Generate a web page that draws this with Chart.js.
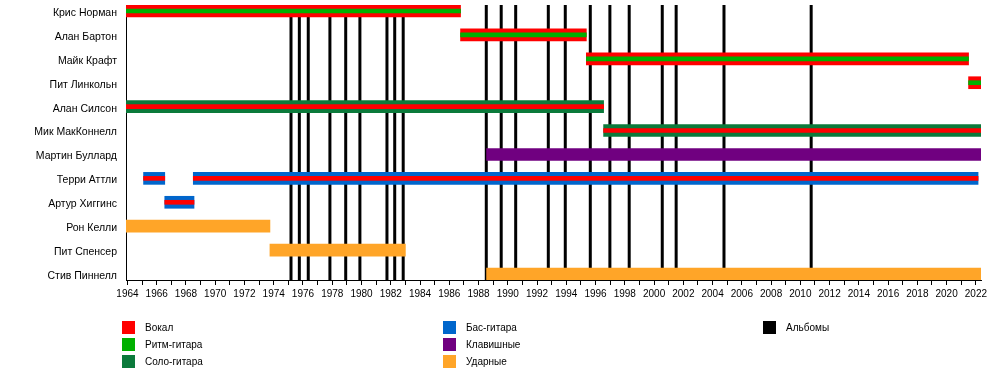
<!DOCTYPE html>
<html><head><meta charset="utf-8">
<script src="https://cdn.jsdelivr.net/npm/chart.js@4/dist/chart.umd.min.js"></script>
<style>
html,body{margin:0;padding:0;background:#fff;}
#wrap{position:relative;width:1000px;height:380px;overflow:hidden;}
canvas{position:absolute;left:0;top:0;}
.lg{position:absolute;font:10px "Liberation Sans",Arial,sans-serif;color:#000;display:flex;align-items:center;height:13px;white-space:nowrap;}
.lg i{display:inline-block;width:13px;height:13px;margin-right:10px;}
</style></head>
<body><div id="wrap"><canvas id="c" width="1000" height="380"></canvas><div id="legend"></div></div>
<script>
// ---- data ----
const members = ['Крис Норман','Алан Бартон','Майк Крафт','Пит Линкольн','Алан Силсон','Мик МакКоннелл','Мартин Буллард','Терри Аттли','Артур Хиггинс','Рон Келли','Пит Спенсер','Стив Пиннелл'];

const vocals = [
  ['Крис Норман', 1963.9, 1986.77],
  ['Алан Бартон', 1986.77, 1995.37],
  ['Майк Крафт', 1995.37, 2021.5],
  ['Пит Линкольн', 2021.5, 2022.35],
  ['Алан Силсон', 1963.9, 1996.55],
  ['Мик МакКоннелл', 1996.55, 2022.35],
  ['Терри Аттли', 1965.1, 1966.55],
  ['Терри Аттли', 1968.5, 2022.15],
  ['Артур Хиггинс', 1966.55, 1968.55]
];
const rhythmGuitar = [
  ['Крис Норман', 1963.9, 1986.77],
  ['Алан Бартон', 1986.77, 1995.37],
  ['Майк Крафт', 1995.37, 2021.5],
  ['Пит Линкольн', 2021.5, 2022.35]
];
const leadGuitar = [
  ['Алан Силсон', 1963.9, 1996.55],
  ['Мик МакКоннелл', 1996.55, 2022.35]
];
const bassGuitar = [
  ['Терри Аттли', 1965.1, 1966.55],
  ['Терри Аттли', 1968.5, 2022.15],
  ['Артур Хиггинс', 1966.55, 1968.55]
];
const keyboards = [
  ['Мартин Буллард', 1988.55, 2022.35]
];
const drums = [
  ['Рон Келли', 1963.9, 1973.74],
  ['Пит Спенсер', 1973.74, 1983.0],
  ['Стив Пиннелл', 1988.55, 2022.35]
];
const albums = [1975.18, 1975.75, 1976.36, 1977.84, 1978.92, 1979.89, 1981.74, 1982.27, 1982.85,
  1988.53, 1989.55, 1990.54, 1992.77, 1993.93, 1995.64, 1996.98, 1998.3, 2000.56, 2001.51, 2004.78, 2010.74];
const tickYears = [1964,1966,1968,1970,1972,1974,1976,1978,1980,1982,1984,1986,1988,1990,1992,1994,1996,1998,2000,2002,2004,2006,2008,2010,2012,2014,2016,2018,2020,2022];
const axisStart = 1963.9, axisEnd = 2022.35;

const legendItems = [
  ['Вокал', '#ff0000'], ['Ритм-гитара', '#00b000'], ['Соло-гитара', '#0b7a3b'],
  ['Бас-гитара', '#0066cc'], ['Клавишные', '#700080'], ['Ударные', '#ffa528'],
  ['Альбомы', '#000000']
];
const COL = Object.fromEntries(legendItems);

// ---- build ----
const toBars = arr => arr.map(([n, a, b]) => ({ y: members.indexOf(n), x: [a, b] }));
const hasBase = n => leadGuitar.concat(bassGuitar).some(s => s[0] === n);
const vocalsThick = vocals.filter(s => !hasBase(s[0]));
const vocalsThin = vocals.filter(s => hasBase(s[0]));

const THICK = 12, THIN = 4;
const barDs = (label, arr, color, thick, order) => ({
  type: 'bar', label, data: toBars(arr), backgroundColor: color, borderWidth: 0,
  barThickness: thick, grouped: false, order, xAxisID: 'x', yAxisID: 'y'
});

const albumPts = [];
albums.forEach(a => { albumPts.push({ x: a, y: 0 }, { x: a, y: 1 }, { x: a, y: null }); });

const datasets = [
  barDs('Вокал', vocalsThin, COL['Вокал'], THIN, 0),
  barDs('Ритм-гитара', rhythmGuitar, COL['Ритм-гитара'], THIN, 0),
  barDs('Вокал', vocalsThick, COL['Вокал'], THICK, 1),
  barDs('Соло-гитара', leadGuitar, COL['Соло-гитара'], THICK, 1),
  barDs('Бас-гитара', bassGuitar, COL['Бас-гитара'], THICK, 1),
  barDs('Клавишные', keyboards, COL['Клавишные'], THICK, 1),
  barDs('Ударные', drums, COL['Ударные'], THICK, 1),
  { type: 'line', label: 'Альбомы', data: albumPts, indexAxis: 'x', xAxisID: 'x', yAxisID: 'yAlb',
    borderColor: '#000', borderWidth: 3, pointRadius: 0, spanGaps: false, tension: 0, order: 10,
    borderCapStyle: 'butt' }
];

const FONT = { family: '"Liberation Sans", Arial, sans-serif', size: 10 };
const NAME_FONT = { family: '"Liberation Sans", Arial, sans-serif', size: 10.5 };
const noPad = s => { s.paddingTop = 0; s.paddingBottom = 0; s.paddingLeft = 0; s.paddingRight = 0; };

new Chart(document.getElementById('c'), {
  type: 'bar',
  data: { datasets },
  options: {
    indexAxis: 'y',
    responsive: false,
    animation: false,
    devicePixelRatio: 1,
    layout: { padding: { left: 0, top: 5, right: 19, bottom: 0 } },
    plugins: { legend: { display: false }, tooltip: { enabled: false } },
    scales: {
      x: {
        type: 'linear', position: 'bottom', min: axisStart, max: axisEnd, offset: false,
        afterBuildTicks: s => {
          const t = [];
          for (let v = tickYears[0]; v <= tickYears[tickYears.length - 1]; v++) t.push({ value: v });
          s.ticks = t;
        },
        afterFit: s => { s.height = 100; noPad(s); },
        border: { display: true, color: '#000', width: 1 },
        grid: { offset: false, drawOnChartArea: false, drawTicks: true, tickLength: 5, color: '#000', lineWidth: 1 },
        ticks: {
          autoSkip: false, maxRotation: 0, color: '#000', font: FONT, padding: 3,
          callback: v => tickYears.includes(v) ? String(v) : ''
        }
      },
      y: {
        type: 'linear', position: 'left', reverse: true, min: -0.25, max: 11.25, offset: false,
        afterBuildTicks: s => { s.ticks = members.map((m, i) => ({ value: i })); },
        afterFit: s => { s.width = 126; noPad(s); },
        border: { display: true, color: '#000', width: 1 },
        grid: { display: false, drawTicks: false, offset: false },
        ticks: { color: '#000', font: NAME_FONT, padding: 9, autoSkip: false, labelOffset: 2,
          callback: v => members[v] }
      },
      yAlb: { type: 'linear', display: false, min: 0, max: 1, offset: false,
        afterFit: s => { noPad(s); } }
    }
  }
});

// ---- legend ----
const lg = document.getElementById('legend');
const cols = [122, 443, 763], rows = [321, 338, 355];
const layout = [[0,0],[0,1],[0,2],[1,0],[1,1],[1,2],[2,0]];
legendItems.forEach(([t, c], i) => {
  const d = document.createElement('div');
  d.className = 'lg';
  d.style.left = cols[layout[i][0]] + 'px';
  d.style.top = rows[layout[i][1]] + 'px';
  d.innerHTML = '<i style="background:' + c + '"></i><span></span>';
  d.querySelector('span').textContent = t;
  lg.appendChild(d);
});
</script>
</body></html>
